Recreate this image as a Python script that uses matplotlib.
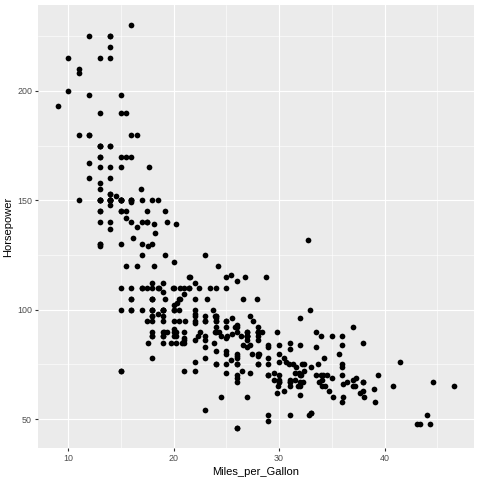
import matplotlib
matplotlib.use("Agg")
import matplotlib.pyplot as plt
from matplotlib.ticker import MultipleLocator, FixedLocator

# Miles_per_Gallon / Horsepower pairs (rows with a missing value left out)
mpg = [
    18, 15, 18, 16, 17, 15, 14, 14, 14, 15, 15, 14, 15, 14, 24, 22, 18, 21, 27, 26,
    25, 24, 25, 26, 21, 10, 10, 11, 9, 27, 28, 25, 19, 16, 17, 19, 18, 14, 14, 14,
    14, 12, 13, 13, 18, 22, 19, 18, 23, 28, 30, 30, 31, 35, 27, 26, 24, 25, 23, 20,
    21, 13, 14, 15, 14, 17, 11, 13, 12, 13, 19, 15, 13, 13, 14, 18, 22, 21, 26, 22,
    28, 23, 28, 27, 13, 14, 13, 14, 15, 12, 13, 13, 14, 13, 12, 13, 18, 16, 18, 18,
    23, 26, 11, 12, 13, 12, 18, 20, 21, 22, 18, 19, 21, 26, 15, 16, 29, 24, 20, 19,
    15, 24, 20, 11, 20, 19, 15, 31, 26, 32, 25, 16, 16, 18, 16, 13, 14, 14, 14, 29,
    26, 26, 31, 32, 28, 24, 26, 24, 26, 31, 19, 18, 15, 15, 16, 15, 16, 14, 17, 16,
    15, 18, 21, 20, 13, 29, 23, 20, 23, 24, 25, 24, 18, 29, 19, 23, 23, 22, 25, 33,
    28, 25, 25, 26, 27, 17.5, 16, 15.5, 14.5, 22, 22, 24, 22.5, 29, 24.5, 29, 33, 20,
    18, 18.5, 17.5, 29.5, 32, 28, 26.5, 20, 13, 19, 19, 16.5, 16.5, 13, 13, 13, 31.5,
    30, 36, 25.5, 33.5, 17.5, 17, 15.5, 15, 17.5, 20.5, 19, 18.5, 16, 15.5, 15.5, 16,
    29, 24.5, 26, 25.5, 30.5, 33.5, 30, 30.5, 22, 21.5, 21.5, 43.1, 36.1, 32.8, 39.4,
    36.1, 19.9, 19.4, 20.2, 19.2, 20.5, 20.2, 25.1, 20.5, 19.4, 20.6, 20.8, 18.6, 18.1,
    19.2, 17.7, 18.1, 17.5, 30, 27.5, 27.2, 30.9, 21.1, 23.2, 23.8, 23.9, 20.3, 17,
    21.6, 16.2, 31.5, 29.5, 21.5, 19.8, 22.3, 20.2, 20.6, 17, 17.6, 16.5, 18.2, 16.9,
    15.5, 19.2, 18.5, 31.9, 34.1, 35.7, 27.4, 25.4, 23, 27.2, 23.9, 34.2, 34.5, 31.8,
    37.3, 28.4, 28.8, 26.8, 33.5, 41.5, 38.1, 32.1, 37.2, 28, 26.4, 24.3, 19.1, 34.3,
    29.8, 31.3, 37, 32.2, 46.6, 27.9, 40.8, 44.3, 43.4, 36.4, 30, 44.6, 33.8, 29.8,
    32.7, 23.7, 35, 32.4, 27.2, 26.6, 25.8, 23.5, 30, 39.1, 39, 35.1, 32.3, 37, 37.7,
    34.1, 34.7, 34.4, 29.9, 33, 33.7, 32.4, 32.9, 31.6, 28.1, 30.7, 25.4, 24.2, 22.4,
    26.6, 20.2, 17.6, 28, 27, 34, 31, 29, 27, 24, 36, 37, 31, 38, 36, 36, 36, 34, 38,
    32, 38, 25, 38, 26, 22, 32, 36, 27, 27, 44, 32, 28, 31,
]
hp = [
    130, 165, 150, 150, 140, 198, 220, 215, 225, 190, 170, 160, 150, 225, 95, 95, 97, 85, 88, 46,
    87, 90, 95, 113, 90, 215, 200, 210, 193, 88, 90, 95, 100, 105, 100, 88, 100, 165, 175, 153,
    150, 180, 170, 175, 110, 72, 100, 88, 86, 90, 70, 76, 65, 69, 60, 70, 95, 80, 54, 90,
    86, 165, 175, 150, 153, 150, 208, 155, 160, 190, 97, 150, 130, 140, 150, 112, 76, 87, 69, 86,
    92, 97, 80, 88, 175, 150, 145, 137, 150, 198, 150, 158, 150, 215, 225, 175, 105, 100, 100, 88,
    95, 46, 150, 167, 170, 180, 100, 88, 72, 94, 90, 85, 107, 90, 145, 230, 49, 75, 91, 112,
    150, 110, 122, 180, 95, 100, 100, 67, 80, 65, 75, 100, 110, 105, 140, 150, 150, 140, 150, 83,
    67, 78, 52, 61, 75, 75, 75, 97, 93, 67, 95, 105, 72, 72, 170, 145, 150, 148, 110, 105,
    110, 95, 110, 110, 129, 75, 83, 100, 78, 96, 71, 97, 97, 70, 90, 95, 88, 98, 115, 53,
    86, 81, 92, 79, 83, 140, 150, 120, 152, 100, 105, 81, 90, 52, 60, 70, 53, 100,
    78, 110, 95, 71, 70, 75, 72, 102, 150, 88, 108, 120, 180, 145, 130, 150, 68,
    80, 58, 96, 70, 145, 110, 145, 130, 110, 105, 100, 98, 180, 170, 190, 149,
    78, 88, 75, 89, 63, 83, 67, 78, 97, 110, 110, 48, 66, 52, 70,
    60, 110, 140, 139, 105, 95, 85, 88, 100, 90, 105, 85, 110, 120,
    145, 165, 139, 140, 68, 95, 97, 75, 95, 105, 85, 97, 103, 125,
    115, 133, 71, 68, 115, 85, 88, 90, 110, 130, 129, 138, 135, 155,
    142, 125, 150, 71, 65, 80, 80, 77, 125, 71, 90, 70, 70, 65,
    69, 90, 115, 115, 90, 76, 60, 70, 65, 90, 88, 90, 90, 78,
    90, 75, 92, 75, 65, 105, 65, 48, 48, 67, 67, 67, 67, 62,
    132, 100, 88, 72, 84, 84, 92, 110, 84, 58, 64, 60, 67, 65, 62,
    68, 63, 65, 65, 74, 75, 75, 100, 74, 80, 76, 116, 120, 110,
    105, 88, 85, 88, 88, 88, 85, 84, 90, 92, 74, 68, 68, 63, 70, 88, 75, 70, 67,
    67, 67, 110, 85, 92, 112, 96, 84, 90, 86, 52, 84, 79, 82,
]

panel_bg = "#EBEBEB"
grid_col = "#FFFFFF"
text_col = "#4D4D4D"

fig = plt.figure(figsize=(4.8, 4.8), dpi=100)
ax = fig.add_axes([0.0785, 0.0665, 0.909, 0.923])
ax.set_facecolor(panel_bg)

ax.scatter(mpg, hp, s=17, color="black", linewidths=0, zorder=3)

# ggplot-style limits: data range plus 5% on each side
xr = max(mpg) - min(mpg)
yr = max(hp) - min(hp)
ax.set_xlim(min(mpg) - 0.05 * xr, max(mpg) + 0.05 * xr)
ax.set_ylim(min(hp) - 0.05 * yr, max(hp) + 0.05 * yr)

ax.xaxis.set_major_locator(FixedLocator([10, 20, 30, 40]))
ax.yaxis.set_major_locator(FixedLocator([50, 100, 150, 200]))
ax.xaxis.set_minor_locator(FixedLocator([15, 25, 35, 45]))
ax.yaxis.set_minor_locator(FixedLocator([75, 125, 175, 225]))

ax.grid(which="major", color=grid_col, linewidth=0.8, zorder=0)
ax.grid(which="minor", color=grid_col, linewidth=0.4, zorder=0)
ax.set_axisbelow(True)

for side in ax.spines.values():
    side.set_visible(False)

ax.tick_params(which="major", length=2.2, width=0.8, color="#333333",
               labelsize=6.4, labelcolor=text_col, pad=1.8)
ax.tick_params(which="minor", length=0)
for lbl in ax.get_xticklabels() + ax.get_yticklabels():
    lbl.set_fontfamily("Liberation Sans")

ax.set_xlabel("Miles_per_Gallon", fontsize=8, family="Liberation Sans", color="black", labelpad=3)
ax.set_ylabel("Horsepower", fontsize=8, family="Liberation Sans", color="black", labelpad=3)

fig.savefig("out.png", dpi=100)
